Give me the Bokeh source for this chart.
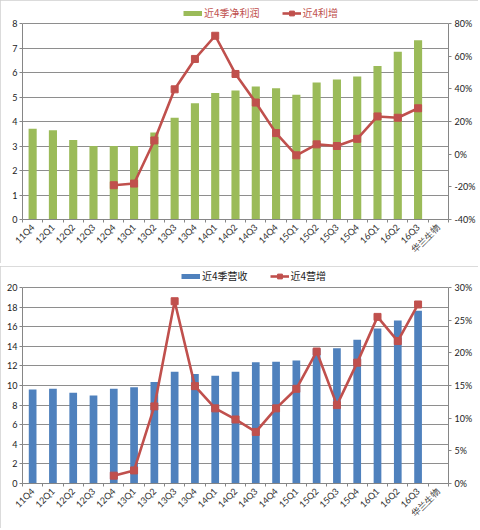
import numpy as np
from math import pi
from bokeh.plotting import figure
from bokeh.models import (ColumnDataSource, Range1d, LinearAxis, FixedTicker,
                          PrintfTickFormatter, Legend, LegendItem)
from bokeh.layouts import column
from bokeh.embed import file_html
from bokeh.resources import INLINE

nan = np.nan

# ---------------- data ----------------
categories = ["11Q4", "12Q1", "12Q2", "12Q3", "12Q4", "13Q1", "13Q2", "13Q3", "13Q4",
              "14Q1", "14Q2", "14Q3", "14Q4", "15Q1", "15Q2", "15Q3", "15Q4",
              "16Q1", "16Q2", "16Q3"]
watermark = "华兰生物"

profit = [3.70, 3.64, 3.25, 3.00, 3.00, 3.00, 3.55, 4.15, 4.74, 5.16, 5.27,
          5.43, 5.36, 5.09, 5.59, 5.71, 5.84, 6.27, 6.85, 7.32]
profit_growth = [nan, nan, nan, nan, -19.0, -18.0, 8.4, 39.7, 58.3, 72.5, 49.1,
                 31.6, 12.9, -0.7, 6.0, 5.0, 9.4, 23.1, 22.3, 28.1]

revenue = [9.60, 9.67, 9.27, 8.97, 9.67, 9.81, 10.35, 11.41, 11.17, 11.00, 11.41,
           12.36, 12.43, 12.56, 13.72, 13.79, 14.67, 15.82, 16.64, 17.63]
revenue_growth = [nan, nan, nan, nan, 1.2, 2.0, 11.8, 27.9, 14.9, 11.5, 9.8,
                  7.9, 11.5, 14.5, 20.2, 12.0, 18.5, 25.5, 21.8, 27.4]

profit_ticks = [0, 1, 2, 3, 4, 5, 6, 7, 8]
profit_pct_ticks = [-40, -20, 0, 20, 40, 60, 80]
revenue_ticks = [0, 2, 4, 6, 8, 10, 12, 14, 16, 18, 20]
revenue_pct_ticks = [0, 5, 10, 15, 20, 25, 30]

profit_names = ["近4季净利润", "近4利增"]
revenue_names = ["近4季营收", "近4营增"]

GREEN = "#9BBB59"
BLUE = "#4F81BD"
RED = "#C0504D"
GRID = "#8E8E8E"
AXIS = "#868686"
TXT = "#222222"
NUM_FONT = "Lato"
CJK_FONT = "Noto Sans CJK SC"


def make_panel(bars, growth, bar_color, left_ticks, right_ticks, names,
               legend_color, width, height, borders, axis_top, legend_xy, bar_width):
    n = len(categories)
    xs = [i + 0.5 for i in range(n)]
    src = ColumnDataSource(dict(x=xs, bars=bars, growth=growth))
    bl, br, bt, bb = borders
    frame_h = height - bt - bb
    axis_h = height - axis_top - bb          # pixel height of the value axes
    stretch = frame_h / axis_h                # extra room above for the legend
    l0, l1 = left_ticks[0], left_ticks[-1]
    r0, r1 = right_ticks[0], right_ticks[-1]
    p = figure(width=width, height=height, output_backend="svg", toolbar_location=None,
               x_range=Range1d(0, n + 1),
               y_range=Range1d(l0, l0 + (l1 - l0) * stretch),
               min_border_left=bl, min_border_right=br,
               min_border_top=bt, min_border_bottom=bb)
    p.extra_y_ranges = {"pct": Range1d(r0, r0 + (r1 - r0) * stretch)}
    p.outline_line_color = None
    p.background_fill_color = "white"
    p.border_fill_color = "white"
    p.styles = {"outline": "1px solid #CFCFCF", "outline-offset": "-1px"}

    # left axis
    yl = p.yaxis[0]
    yl.ticker = FixedTicker(ticks=left_ticks)
    yl.bounds = (l0, l1)
    p.ygrid.ticker = FixedTicker(ticks=left_ticks)
    p.ygrid.grid_line_color = GRID
    p.ygrid.grid_line_width = 1
    p.xgrid.visible = False
    yl.axis_line_color = AXIS
    yl.major_tick_line_color = AXIS
    yl.major_tick_out = 3
    yl.major_tick_in = 0
    yl.minor_tick_line_color = None
    yl.major_label_standoff = 2
    yl.major_label_text_font = NUM_FONT
    yl.major_label_text_font_size = "9px"
    yl.major_label_text_color = TXT

    # right axis
    yr = LinearAxis(y_range_name="pct", ticker=FixedTicker(ticks=right_ticks),
                    formatter=PrintfTickFormatter(format="%d%%"), bounds=(r0, r1))
    yr.axis_line_color = AXIS
    yr.major_tick_line_color = AXIS
    yr.major_tick_out = 3
    yr.major_tick_in = 0
    yr.minor_tick_line_color = None
    yr.major_label_standoff = 3
    yr.major_label_text_font = NUM_FONT
    yr.major_label_text_font_size = "9px"
    yr.major_label_text_color = TXT
    p.add_layout(yr, "right")

    # category axis (ticks between categories, labels at centres)
    labels = categories + [watermark]
    xticks = [i + 0.5 for i in range(len(labels))]
    xa = p.xaxis[0]
    xa.ticker = FixedTicker(ticks=xticks, minor_ticks=list(range(0, n + 2)))
    xa.major_label_overrides = {x: c for x, c in zip(xticks, labels)}
    xa.major_label_orientation = pi / 4
    xa.major_tick_line_color = None
    xa.major_tick_out = 0
    xa.major_tick_in = 0
    xa.minor_tick_line_color = AXIS
    xa.minor_tick_out = 3
    xa.minor_tick_in = 0
    xa.axis_line_color = AXIS
    xa.major_label_standoff = 3
    xa.major_label_text_font = NUM_FONT
    xa.major_label_text_font_size = "9px"
    xa.major_label_text_color = "#333333"

    # bars
    p.vbar(x="x", top="bars", width=bar_width, bottom=0, source=src,
           fill_color=bar_color, line_color=None)
    # growth line
    ln = p.line(x="x", y="growth", source=src, y_range_name="pct",
                line_color=RED, line_width=2.6)
    sc = p.scatter(x="x", y="growth", source=src, y_range_name="pct",
                   marker="square", size=7, fill_color=RED, line_color=RED)

    # legend (bar swatch drawn as a thick short line, like the original)
    sw = p.line(x=[nan], y=[nan], line_color=bar_color, line_width=5)
    legend = Legend(items=[LegendItem(label=names[0], renderers=[sw]),
                           LegendItem(label=names[1], renderers=[ln, sc])],
                    orientation="horizontal", location=legend_xy,
                    background_fill_alpha=0, border_line_color=None,
                    margin=0, padding=0, spacing=22, glyph_width=19,
                    glyph_height=12, label_height=12, label_standoff=2,
                    label_text_font=CJK_FONT, label_text_font_size="10px",
                    label_text_color=legend_color)
    p.add_layout(legend, "center")
    return p


top = make_panel(profit, profit_growth, GREEN, profit_ticks, profit_pct_ticks,
                 profit_names, RED, 478, 263, (16, 28, 3, 44), 23, (161, 199), 0.4)
bottom = make_panel(revenue, revenue_growth, BLUE, revenue_ticks, revenue_pct_ticks,
                    revenue_names, TXT, 478, 262, (22, 25, 3, 45), 21, (159, 200), 0.38)

layout = column(top, bottom, spacing=3, margin=(0, 0, 0, 0))

open("out.html", "w").write(file_html(layout, INLINE))
